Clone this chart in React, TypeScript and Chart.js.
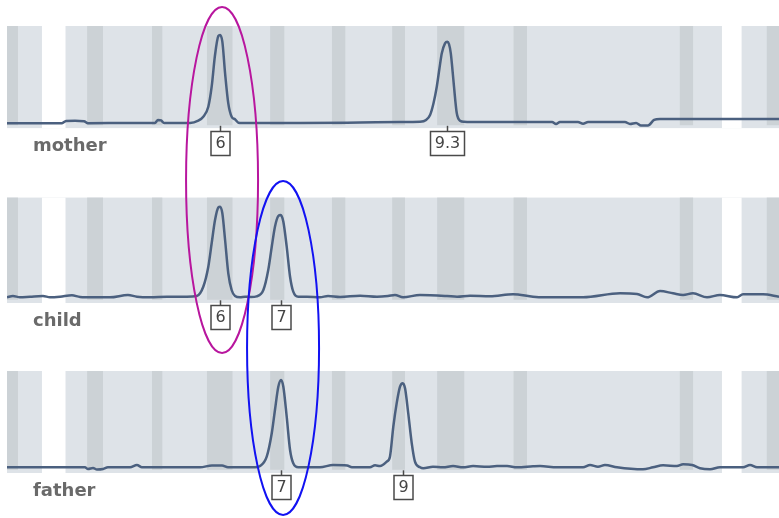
import React, { useEffect, useRef } from 'react';
import { Chart, registerables } from 'chart.js';

Chart.register(...registerables);

// x axis: fragment size (bp); y axis: signal (RFU)
const X_MIN = 165.0;
const X_MAX = 215.62;
const Y_MIN = -60;
const Y_MAX = 1000;

// allele bins (shaded bands), in bp
const binStarts = [165.0, 170.25, 174.5, 178.1, 182.25, 186.3, 190.25, 193.2, 198.2, 209.1, 214.8];
const binEnds = [165.72, 171.3, 175.2, 179.8, 183.2, 187.2, 191.1, 195.0, 199.1, 210.0, 215.62];
// gaps with no bin panel
const gapStarts = [167.28, 211.87];
const gapEnds = [168.85, 213.18];

// mother trace
const motherSize = [165.00,167.16,168.61,168.87,169.46,170.05,170.31,173.07,174.70,174.90,175.10,175.30,177.00,177.54,177.87,178.20,178.42,178.64,178.86,178.97,179.12,179.30,179.51,179.73,179.95,180.17,180.41,184.21,188.15,190.77,192.08,192.48,192.74,192.97,193.18,193.36,193.51,193.72,193.87,193.98,194.10,194.21,194.31,194.49,194.71,194.97,196.02,198.64,200.74,201.00,201.26,202.44,202.77,203.10,205.52,205.85,206.25,206.57,207.03,207.43,207.82,211.75,215.62];
const motherRFU = [-5,-5,-4,19,21,17,-4,-2,-2,29,24,-2,-2,22,63,166,373,700,897,907,838,511,201,63,36,1,-2,-2,3,8,11,29,81,205,373,566,718,821,838,814,718,545,373,101,22,11,8,8,8,-12,8,8,-10,8,8,-12,-2,-28,-28,29,39,39,39];
const motherAlleles = ['6', '9.3'];
const motherAlleleSize = [178.97, 193.87];

// child trace
const childSize = [165.00,165.39,165.85,166.51,167.36,167.82,168.48,169.26,169.79,170.64,171.75,172.93,173.52,174.38,175.49,176.80,177.44,177.87,178.20,178.42,178.64,178.86,178.97,179.12,179.30,179.51,179.73,179.95,180.28,180.61,181.00,181.37,181.81,182.13,182.36,182.57,182.79,182.95,183.12,183.34,183.56,183.77,184.10,184.67,185.52,186.05,186.84,188.15,189.26,189.98,190.44,190.97,192.08,193.85,194.51,195.36,196.67,198.18,199.49,200.15,202.77,205.20,206.31,206.97,207.82,208.67,209.33,209.98,210.90,211.75,212.87,213.26,214.57,215.62];
const childRFU = [0,13,0,6,13,0,6,20,3,0,0,23,6,0,6,6,13,106,306,540,773,900,906,840,573,240,73,13,0,6,3,10,73,273,506,706,813,823,756,506,206,56,6,6,0,13,3,16,6,13,23,0,23,13,6,16,10,30,6,0,0,40,33,0,63,40,23,40,0,23,0,30,30,6];
const childAlleles = ['6', '7'];
const childAlleleSize = [178.97, 182.95];

// father trace
const fatherSize = [165.00,168.48,170.11,170.31,170.64,170.90,171.30,171.62,173.07,173.52,173.85,177.66,178.44,179.10,179.49,181.26,181.59,182.03,182.36,182.57,182.79,182.97,183.12,183.34,183.56,183.77,184.10,185.52,186.38,187.30,187.62,188.80,189.13,189.46,189.90,190.11,190.33,190.55,190.77,190.95,191.10,191.31,191.54,191.75,192.08,192.30,192.93,193.59,194.25,194.90,195.56,196.48,197.13,197.79,198.44,199.49,199.95,201.07,202.77,203.23,203.75,204.21,205.00,206.70,207.36,208.02,208.93,209.33,209.92,210.44,211.10,211.75,213.26,213.72,214.18,215.62];
const fatherRFU = [0,0,0,-18,-7,-23,-18,0,0,24,0,0,19,19,0,0,13,110,352,593,834,904,834,524,179,41,0,0,24,19,0,0,21,13,58,110,420,662,835,870,818,559,248,58,0,-10,6,0,13,0,13,6,13,13,0,10,13,0,0,24,6,24,0,-21,0,21,13,31,24,-10,-21,0,0,24,0,0];
const fatherAlleles = ['7', '9'];
const fatherAlleleSize = [182.97, 190.95];

// highlight ellipses (shared allele between samples)
const highlightAllele = [178.97, 182.97];
const highlightColor = ['#b8169e', '#1212f2'];

const PANEL_COLOR = '#dee3e8';
const BIN_COLOR = '#ccd2d6';
const TRACE_COLOR = '#4b607f';

type Panel = {
  name: string;
  size: number[];
  rfu: number[];
  alleles: string[];
  alleleSize: number[];
  padTop: number;
  padBottom: number;
};

const panels: Panel[] = [
  { name: 'mother', size: motherSize, rfu: motherRFU, alleles: motherAlleles, alleleSize: motherAlleleSize, padTop: 26, padBottom: 389.4 },
  { name: 'child', size: childSize, rfu: childRFU, alleles: childAlleles, alleleSize: childAlleleSize, padTop: 197.3, padBottom: 214.7 },
  { name: 'father', size: fatherSize, rfu: fatherRFU, alleles: fatherAlleles, alleleSize: fatherAlleleSize, padTop: 370.7, padBottom: 44.9 },
];

function decorPlugin(p: Panel) {
  return {
    id: 'decor_' + p.name,
    afterDatasetsDraw(chart: any) {
      const { ctx } = chart;
      const x = chart.scales.x;
      const y = chart.scales.y;
      const base = y.getPixelForValue(0);
      ctx.save();
      ctx.font = 'bold 18px "DejaVu Sans", sans-serif';
      ctx.fillStyle = '#6a6a6a';
      ctx.textAlign = 'left';
      ctx.textBaseline = 'alphabetic';
      ctx.fillText(p.name, 33, base + 28.5);

      ctx.font = '16px "DejaVu Sans", sans-serif';
      p.alleles.forEach((a, i) => {
        const px = Math.round(x.getPixelForValue(p.alleleSize[i])) + 0.5;
        const w = Math.round(ctx.measureText(a).width + 9);
        const top = Math.round(base + 8) + 0.5;
        ctx.strokeStyle = '#4a4a4a';
        ctx.lineWidth = 1.5;
        ctx.beginPath();
        ctx.moveTo(px, base + 3);
        ctx.lineTo(px, top);
        ctx.stroke();
        ctx.fillStyle = '#ffffff';
        ctx.fillRect(px - w / 2, top, w, 24);
        ctx.strokeRect(px - w / 2, top, w, 24);
        ctx.fillStyle = '#444444';
        ctx.textAlign = 'center';
        ctx.textBaseline = 'middle';
        ctx.fillText(a, px, top + 12.5);
      });
      ctx.restore();
    },
  };
}

const ellipsePlugin = {
  id: 'highlights',
  afterDraw(chart: any) {
    const { ctx } = chart;
    const x = chart.scales.x;
    const spans = [
      { top: 7, bottom: 353 },
      { top: 181, bottom: 515 },
    ];
    ctx.save();
    highlightAllele.forEach((s, i) => {
      const cx = x.getPixelForValue(s) + 2;
      const cy = (spans[i].top + spans[i].bottom) / 2;
      const ry = (spans[i].bottom - spans[i].top) / 2;
      ctx.beginPath();
      ctx.ellipse(cx, cy, 36, ry, 0, 0, Math.PI * 2);
      ctx.strokeStyle = highlightColor[i];
      ctx.lineWidth = 2;
      ctx.stroke();
    });
    ctx.restore();
  },
};

function makeConfig(p: Panel, withEllipses: boolean): any {
  const datasets: any[] = [];
  datasets.push({
    type: 'line',
    data: p.size.map((s, i) => ({ x: s, y: p.rfu[i] })),
    borderColor: TRACE_COLOR,
    borderWidth: 2.5,
    pointRadius: 0,
    cubicInterpolationMode: 'monotone',
    fill: false,
    order: 0,
  });
  binStarts.forEach((s, i) => {
    datasets.push({
      type: 'line',
      data: [{ x: s, y: Y_MAX }, { x: binEnds[i], y: Y_MAX }],
      borderWidth: 0,
      pointRadius: 0,
      backgroundColor: BIN_COLOR,
      fill: { value: -25 },
      order: 1,
    });
  });
  gapStarts.forEach((s, i) => {
    datasets.push({
      type: 'line',
      data: [{ x: s, y: Y_MAX }, { x: gapEnds[i], y: Y_MAX }],
      borderWidth: 0,
      pointRadius: 0,
      backgroundColor: '#ffffff',
      fill: 'start',
      order: 1,
    });
  });
  datasets.push({
    type: 'line',
    data: [{ x: X_MIN, y: Y_MAX }, { x: X_MAX, y: Y_MAX }],
    borderWidth: 0,
    pointRadius: 0,
    backgroundColor: PANEL_COLOR,
    fill: 'start',
    order: 2,
  });
  return {
    type: 'line',
    data: { datasets },
    options: {
      animation: false,
      responsive: false,
      devicePixelRatio: 1,
      layout: { padding: { left: 7, right: 0, top: p.padTop, bottom: p.padBottom } },
      scales: {
        x: { type: 'linear', min: X_MIN, max: X_MAX, display: false },
        y: { type: 'linear', min: Y_MIN, max: Y_MAX, display: false },
      },
      plugins: { legend: { display: false }, tooltip: { enabled: false }, title: { display: false } },
      events: [],
    },
    plugins: withEllipses ? [decorPlugin(p), ellipsePlugin] : [decorPlugin(p)],
  };
}

export default function App() {
  const r0 = useRef<HTMLCanvasElement>(null);
  const r1 = useRef<HTMLCanvasElement>(null);
  const r2 = useRef<HTMLCanvasElement>(null);

  useEffect(() => {
    const refs = [r0, r1, r2];
    const charts = panels.map((p, i) => new Chart(refs[i].current as HTMLCanvasElement, makeConfig(p, i === 2)));
    return () => charts.forEach((c) => c.destroy());
  }, []);

  const cs: React.CSSProperties = { position: 'absolute', left: 0, top: 0, width: 779, height: 518 };
  return (
    <div style={{ position: 'fixed', left: 0, top: 0, width: 779, height: 518, background: '#ffffff' }}>
      <canvas ref={r0} width={779} height={518} style={cs} />
      <canvas ref={r1} width={779} height={518} style={cs} />
      <canvas ref={r2} width={779} height={518} style={cs} />
    </div>
  );
}
